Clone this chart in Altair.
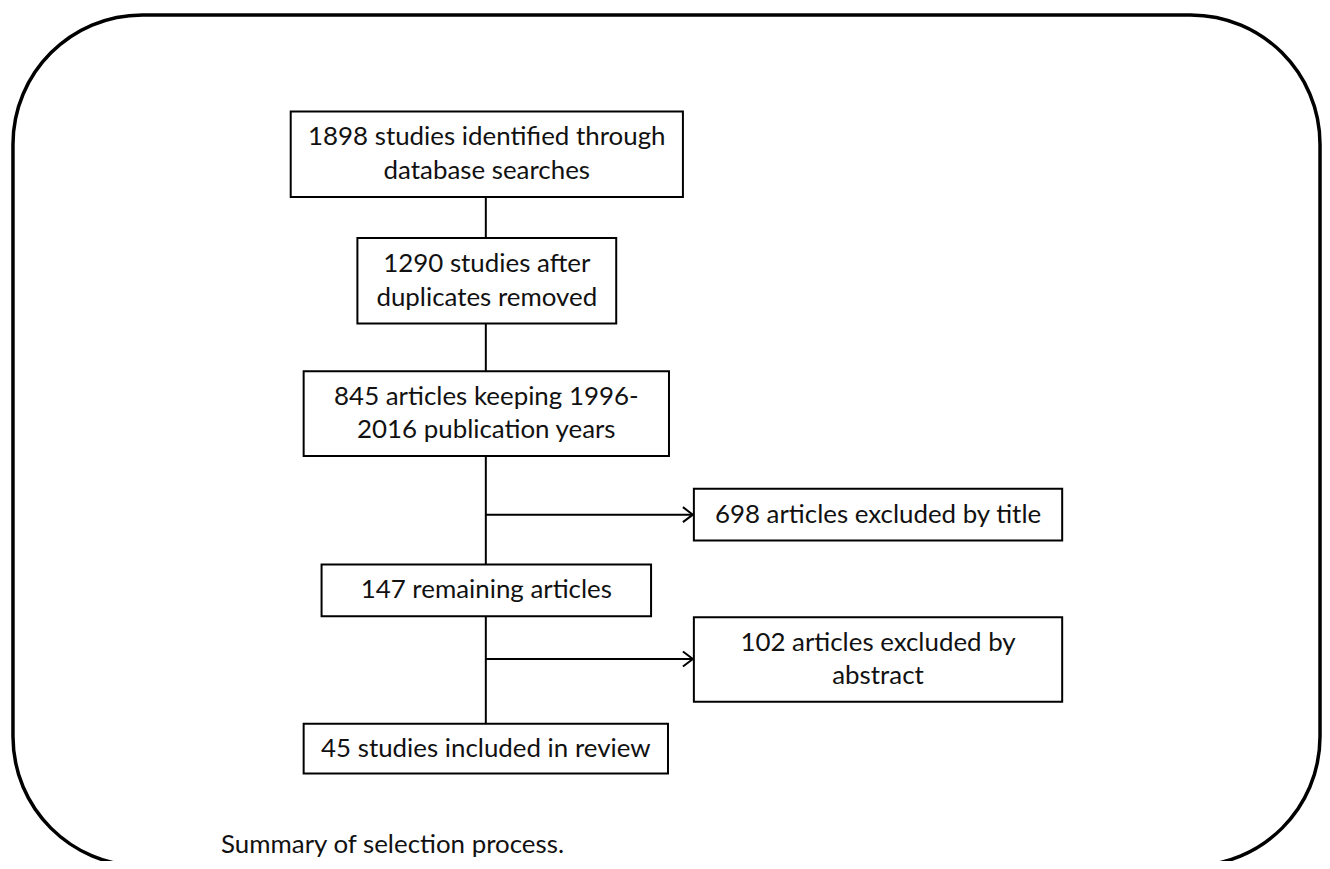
import altair as alt
import pandas as pd

# ---- content (flowchart steps) ----
labels = [
    ["1898 studies identified through", "database searches"],
    ["1290 studies after", "duplicates removed"],
    ["845 articles keeping 1996-", "2016 publication years"],
    ["698 articles excluded by title"],
    ["147 remaining articles"],
    ["102 articles excluded by", "abstract"],
    ["45 studies included in review"],
]
caption = "Summary of selection process."

# ---- layout (page pixel coordinates) ----
box_x0 = [292, 359, 305, 697, 323, 697, 305]
box_x1 = [686, 619, 672, 1067, 654, 1067, 671]
box_y0 = [110, 237, 371, 489, 565, 618, 725]
box_y1 = [196, 323, 456, 541, 617, 703, 775]
spine_x = 488
spine_y = [196, 725]
arrow_y = [515, 660]
arrow_x = [488, 696]
frame = [13, 13, 1326, 868]

W, H = 1320, 853
X0, Y0 = 8, 8
LH = 34

boxes = pd.DataFrame({
    "x0": box_x0, "x1": box_x1, "y0": box_y0, "y1": box_y1,
    "cx": [(a + b) / 2 for a, b in zip(box_x0, box_x1)],
    "ty": [(a + b) / 2 - (len(l) - 1) * LH / 2 for a, b, l in zip(box_y0, box_y1, labels)],
    "label": labels,
})
spine = pd.DataFrame({"x": [spine_x], "y0": [spine_y[0]], "y1": [spine_y[1]]})
arrows = pd.DataFrame({"xa": [arrow_x[0]] * 2, "xb": [arrow_x[1]] * 2, "y": arrow_y})
frame_df = pd.DataFrame({"x0": [frame[0]], "y0": [frame[1]], "x1": [frame[2]], "y1": [frame[3]]})
cap_df = pd.DataFrame({"x": [222], "y": [855], "t": [caption]})

xs = alt.Scale(domain=[X0, X0 + W], nice=False, zero=False)
ys = alt.Scale(domain=[Y0, Y0 + H], nice=False, zero=False, reverse=True)

FONT = "Lato"
FS = 26

frame_layer = alt.Chart(frame_df).mark_rect(
    fillOpacity=0, stroke="black", strokeWidth=3.5, cornerRadius=130
).encode(
    x=alt.X("x0:Q", scale=xs, axis=None), x2="x1:Q",
    y=alt.Y("y0:Q", scale=ys, axis=None), y2="y1:Q",
)

spine_layer = alt.Chart(spine).mark_rule(color="black", strokeWidth=2).encode(
    x=alt.X("x:Q", scale=xs, axis=None),
    y=alt.Y("y0:Q", scale=ys, axis=None), y2="y1:Q",
)

arrow_lines = alt.Chart(arrows).mark_rule(color="black", strokeWidth=2).encode(
    x=alt.X("xa:Q", scale=xs, axis=None), x2="xb:Q",
    y=alt.Y("y:Q", scale=ys, axis=None),
)

arrow_heads = alt.Chart(arrows).mark_point(
    shape="M -1 -0.75 L 0 0 L -1 0.75", filled=False, stroke="black",
    strokeWidth=2, size=400, opacity=1
).encode(
    x=alt.X("xb:Q", scale=xs, axis=None),
    y=alt.Y("y:Q", scale=ys, axis=None),
)

box_layer = alt.Chart(boxes).mark_rect(fill="white", stroke="black", strokeWidth=2).encode(
    x=alt.X("x0:Q", scale=xs, axis=None), x2="x1:Q",
    y=alt.Y("y0:Q", scale=ys, axis=None), y2="y1:Q",
)

text_layer = alt.Chart(boxes).mark_text(
    font=FONT, fontSize=FS, lineHeight=LH, align="center", baseline="middle", color="#111"
).encode(
    x=alt.X("cx:Q", scale=xs, axis=None),
    y=alt.Y("ty:Q", scale=ys, axis=None),
    text="label",
)

cap_layer = alt.Chart(cap_df).mark_text(
    font=FONT, fontSize=FS, align="left", baseline="alphabetic", color="#111"
).encode(
    x=alt.X("x:Q", scale=xs, axis=None),
    y=alt.Y("y:Q", scale=ys, axis=None),
    text="t:N",
)

chart = alt.layer(
    frame_layer, spine_layer, arrow_lines, arrow_heads, box_layer, text_layer, cap_layer
).properties(
    width=W, height=H, padding=0, autosize=alt.AutoSizeParams(type="none"),
    background="white",
).configure_view(stroke=None)

chart.save("out.html", embed_options={"renderer": "svg", "actions": False})
